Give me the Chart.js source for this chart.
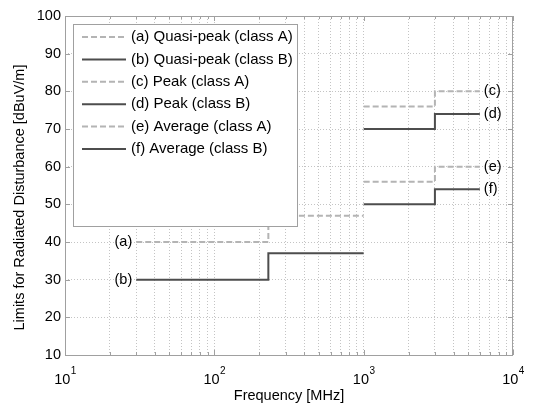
<!DOCTYPE html>
<html>
<head>
<meta charset="utf-8">
<script src="https://cdn.jsdelivr.net/npm/chart.js@4.4.1/dist/chart.umd.min.js"></script>
<style>
  html, body { margin: 0; padding: 0; background: #fff; }
  #wrap { width: 533px; height: 403px; }
</style>
</head>
<body>
<div id="wrap"><canvas id="limits"></canvas></div>
<script>
// frequency breakpoints [MHz] and levels [dBuV/m]
const qpFreq = [30, 230, 1000];
const qpClassA = [40, 47, 47];
const qpClassB = [30, 37, 37];
const hfFreq = [1000, 3000, 6000];
const peakClassA = [76, 80, 80];
const peakClassB = [70, 74, 74];
const avgClassA = [56, 60, 60];
const avgClassB = [50, 54, 54];

const seriesNames = [
    "(a) Quasi-peak (class A)",
    "(b) Quasi-peak (class B)",
    "(c) Peak (class A)",
    "(d) Peak (class B)",
    "(e) Average (class A)",
    "(f) Average (class B)"
];
const tags = ["(a)", "(b)", "(c)", "(d)", "(e)", "(f)"];

const xDecades = [10, 100, 1000, 10000];
const xDecadeExp = ["1", "2", "3", "4"];
const minorSteps = [2, 3, 4, 5, 6, 7, 8, 9];
const yTicks = [10, 20, 30, 40, 50, 60, 70, 80, 90, 100];

const FONT = "'Liberation Sans', Arial, sans-serif";
const classA = { color: "#b4b4b4", dash: [6, 3] };
const classB = { color: "#4d4d4d", dash: [] };

function pts(xs, ys) {
    return xs.map((x, i) => ({ x, y: ys[i] }));
}

function mkSet(label, xs, ys, style) {
    return {
        label,
        data: pts(xs, ys),
        stepped: "before",
        borderColor: style.color,
        borderDash: style.dash,
        borderWidth: 2,
        pointRadius: 0,
        fill: false
    };
}

const datasets = [
    mkSet(seriesNames[0], qpFreq, qpClassA, classA),
    mkSet(seriesNames[1], qpFreq, qpClassB, classB),
    mkSet(seriesNames[2], hfFreq, peakClassA, classA),
    mkSet(seriesNames[3], hfFreq, peakClassB, classB),
    mkSet(seriesNames[4], hfFreq, avgClassA, classA),
    mkSet(seriesNames[5], hfFreq, avgClassB, classB)
];

// frame, tick marks, tick labels, legend box and (a)-(f) tags
const decorations = {
    id: "decorations",
    afterDraw(chart) {
        const { ctx, chartArea: ca, scales } = chart;
        const xs = scales.x, ys = scales.y;
        ctx.save();

        // axes box
        ctx.strokeStyle = "#a0a0a0";
        ctx.lineWidth = 1;
        ctx.setLineDash([]);
        ctx.strokeRect(ca.left + 0.5, ca.top + 0.5, ca.right - ca.left - 1, ca.bottom - ca.top);

        // inward tick marks
        ctx.beginPath();
        xs.ticks.forEach(t => {
            const px = Math.round(xs.getPixelForValue(t.value)) + 0.5;
            const len = xDecades.includes(t.value) ? 5 : 3;
            ctx.moveTo(px, ca.bottom); ctx.lineTo(px, ca.bottom - len);
            ctx.moveTo(px, ca.top); ctx.lineTo(px, ca.top + len);
        });
        ys.ticks.forEach(t => {
            const py = Math.round(ys.getPixelForValue(t.value)) + 0.5;
            ctx.moveTo(ca.left, py); ctx.lineTo(ca.left + 5, py);
            ctx.moveTo(ca.right, py); ctx.lineTo(ca.right - 5, py);
        });
        ctx.stroke();

        // x tick labels 10^n
        ctx.fillStyle = "#000";
        ctx.textBaseline = "alphabetic";
        xDecades.forEach((v, i) => {
            const px = xs.getPixelForValue(v);
            ctx.font = "14.5px " + FONT;
            const w1 = ctx.measureText("10").width;
            ctx.font = "10px " + FONT;
            const w2 = ctx.measureText(xDecadeExp[i]).width;
            const x0 = px - (w1 + w2) / 2;
            ctx.font = "14.5px " + FONT;
            ctx.textAlign = "left";
            ctx.fillText("10", x0, 384);
            ctx.font = "10px " + FONT;
            ctx.fillText(xDecadeExp[i], x0 + w1 + 0.5, 374);
        });

        // axis titles
        ctx.font = "14.5px " + FONT;
        ctx.textAlign = "center";
        ctx.textBaseline = "alphabetic";
        ctx.fillText("Frequency [MHz]", (ca.left + ca.right) / 2, 400);
        ctx.save();
        ctx.translate(24, (ca.top + ca.bottom) / 2 + 12);
        ctx.rotate(-Math.PI / 2);
        ctx.fillText("Limits for Radiated Disturbance [dBuV/m]", 0, 0);
        ctx.restore();

        // tags next to the curves
        ctx.textBaseline = "middle";
        ctx.textAlign = "right";
        ctx.fillText(tags[0], xs.getPixelForValue(qpFreq[0]) - 4, ys.getPixelForValue(qpClassA[0]));
        ctx.fillText(tags[1], xs.getPixelForValue(qpFreq[0]) - 4, ys.getPixelForValue(qpClassB[0]));
        ctx.textAlign = "left";
        const xr = xs.getPixelForValue(hfFreq[hfFreq.length - 1]) + 4;
        ctx.fillText(tags[2], xr, ys.getPixelForValue(peakClassA[2]));
        ctx.fillText(tags[3], xr, ys.getPixelForValue(peakClassB[2]));
        ctx.fillText(tags[4], xr, ys.getPixelForValue(avgClassA[2]));
        ctx.fillText(tags[5], xr, ys.getPixelForValue(avgClassB[2]));

        // legend box
        const lx = 73, ly = 24, lw = 224, lh = 202;
        ctx.fillStyle = "#fff";
        ctx.fillRect(lx, ly, lw, lh);
        ctx.strokeStyle = "#a0a0a0";
        ctx.lineWidth = 1;
        ctx.strokeRect(lx + 0.5, ly + 0.5, lw, lh);
        chart.data.datasets.forEach((ds, i) => {
            const y = ly + 13 + i * 22.4;
            ctx.strokeStyle = ds.borderColor;
            ctx.lineWidth = 2;
            ctx.setLineDash(ds.borderDash);
            ctx.beginPath();
            ctx.moveTo(lx + 9, y);
            ctx.lineTo(lx + 53, y);
            ctx.stroke();
            ctx.setLineDash([]);
            ctx.fillStyle = "#000";
            ctx.font = "15px " + FONT;
            ctx.textAlign = "left";
            ctx.textBaseline = "middle";
            ctx.fillText(ds.label, lx + 58, y);
        });

        ctx.restore();
    }
};

new Chart(document.getElementById("limits"), {
    type: "line",
    data: { datasets },
    options: {
        responsive: true,
        maintainAspectRatio: false,
        animation: false,
        layout: { padding: { top: 16, right: 20, left: 0, bottom: 0 } },
        plugins: { legend: { display: false }, tooltip: { enabled: false } },
        scales: {
            x: {
                type: "logarithmic",
                min: 10,
                max: 10000,
                afterBuildTicks: (scale) => {
                    const t = [];
                    xDecades.forEach((d, i) => {
                        t.push({ value: d });
                        if (i < xDecades.length - 1) minorSteps.forEach(m => t.push({ value: d * m }));
                    });
                    scale.ticks = t;
                },
                afterFit: (scale) => { scale.height = 48; },
                ticks: { display: false },
                grid: { color: "#c4c4c4", drawTicks: false, lineWidth: 1 },
                border: { display: false, dash: [1, 2] }
            },
            y: {
                min: 10,
                max: 100,
                afterBuildTicks: (scale) => { scale.ticks = yTicks.map(v => ({ value: v })); },
                afterFit: (scale) => { scale.width = 65; },
                ticks: { color: "#000", font: { family: FONT, size: 14.5 }, padding: 4 },
                grid: { color: "#c4c4c4", drawTicks: false, lineWidth: 1 },
                border: { display: false, dash: [1, 2] }
            }
        }
    },
    plugins: [decorations]
});
</script>
</body>
</html>
